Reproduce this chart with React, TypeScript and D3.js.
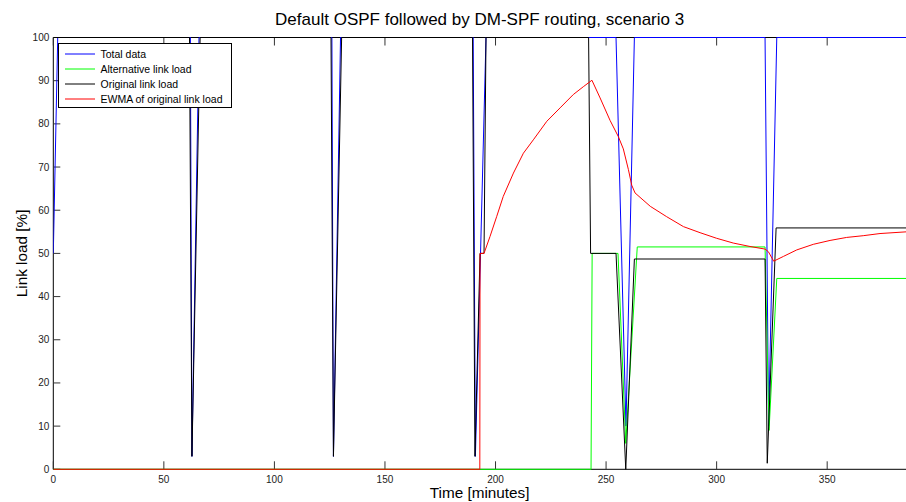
import React from "react";
import * as d3 from "d3";

const W = 906;
const H = 502;

const xTicks = [0, 50, 100, 150, 200, 250, 300, 350];
const yTicks = [0, 10, 20, 30, 40, 50, 60, 70, 80, 90, 100];

const legendLabels = ["Total data", "Alternative link load", "Original link load", "EWMA of original link load"];
const seriesColors = ["#0000ff", "#00ff00", "#000000", "#ff0000"];

// Total data (blue)
const totalT = [0, 2, 62.0, 62.7, 65.9, 126.0, 126.7, 129.9, 189.9, 190.9, 195.7, 254.5, 259.0, 262.8, 321.9, 323.5, 327.2, 386];
const totalV = [50, 100, 100, 3, 100, 100, 3, 100, 100, 3, 100, 100, 10, 100, 100, 10, 100, 100];

// Alternative link load (green)
const altT = [0, 243.2, 243.7, 255.4, 258.9, 264.1, 321.9, 323.7, 327.2, 386];
const altV = [0, 0, 50, 50, 6, 51.5, 51.5, 9, 44.2, 44.2];

// Original link load (black)
const origT = [0, 61.6, 62.7, 66.4, 125.6, 126.7, 130.4, 189.6, 190.7, 193.0, 194.8, 195.7, 242.1, 243.0, 254.5, 258.9, 262.8, 321.9, 322.9, 326.9, 386];
const origV = [100, 100, 3, 100, 100, 3, 100, 100, 3, 50, 50, 100, 100, 50, 50, 0, 48.7, 48.7, 1.4, 55.9, 55.9];

// EWMA of original link load (red)
const ewmaT = [0, 192.9, 193.0, 194.8, 197.5, 200.5, 203.5, 208.1, 212.6, 217.1, 223.2, 229.2, 235.2, 239.7, 243.6, 247.3, 251.8, 255.5, 257.8, 260.1, 261.6, 263.1, 270.0, 277.4, 285.0, 292.5, 300.0, 307.5, 315.1, 321.9, 323.4, 325.8, 330.2, 336.2, 343.7, 351.3, 358.8, 366.3, 373.9, 386];
const ewmaV = [0, 0, 50, 50, 53.9, 58.5, 63.2, 68.6, 73.2, 76.3, 80.6, 83.7, 86.8, 88.6, 90.1, 86.0, 80.8, 77.1, 74.2, 69.4, 65.8, 64.0, 60.9, 58.5, 56.2, 54.8, 53.5, 52.4, 51.6, 51.0, 50.4, 48.2, 49.3, 50.8, 52.1, 53.0, 53.7, 54.1, 54.6, 55.0];

const X_MAX = 386;

export default function App() {
  const left = 53.3;
  const pxPerUnit = 2.2111;
  const right = left + X_MAX * pxPerUnit;
  const top = 37.5;
  const bottom = 469.3;

  const x = d3.scaleLinear().domain([0, X_MAX]).range([left, right]);
  const y = d3.scaleLinear().domain([0, 100]).range([bottom, top]);

  const line = d3
    .line<[number, number]>()
    .x((d) => x(d[0]))
    .y((d) => y(d[1]));

  const zip = (t: number[], v: number[]) => t.map((tt, i) => [tt, v[i]] as [number, number]);
  const series = [
    zip(totalT, totalV),
    zip(altT, altV),
    zip(origT, origV),
    zip(ewmaT, ewmaV),
  ];

  const font = "'Liberation Sans', Arial, Helvetica, sans-serif";
  const tickLen = 8;

  const legX = 58.5;
  const legY = 43.5;
  const legW = 173;
  const legH = 64;
  const rowY = [54, 69, 84, 99];
  const cx = (left + 906) / 2;

  return (
    <svg
      width={W}
      height={H}
      style={{ position: "absolute", left: 0, top: 0, background: "#fff" }}
      fontFamily={font}
    >
      <rect x={0} y={0} width={W} height={H} fill="#fff" />
      <defs>
        <clipPath id="plotClip">
          <rect x={left} y={top - 2} width={right - left} height={bottom - top + 4} />
        </clipPath>
      </defs>

      {/* axes box */}
      <line x1={left} x2={right} y1={top} y2={top} stroke="#000" strokeWidth={1} />
      <line x1={left} x2={right} y1={bottom} y2={bottom} stroke="#000" strokeWidth={1} />
      <line x1={left} x2={left} y1={top} y2={bottom} stroke="#000" strokeWidth={1} />

      {/* x ticks */}
      {xTicks.map((t) => (
        <g key={"xt" + t}>
          <line x1={x(t)} x2={x(t)} y1={bottom} y2={bottom - tickLen} stroke="#333" strokeWidth={1} />
          <line x1={x(t)} x2={x(t)} y1={top} y2={top + tickLen} stroke="#333" strokeWidth={1} />
          <text x={x(t)} y={bottom + 14} textAnchor="middle" fontSize={10} fill="#222">
            {t}
          </text>
        </g>
      ))}

      {/* y ticks */}
      {yTicks.map((v) => (
        <g key={"yt" + v}>
          <line x1={left} x2={left + 7} y1={y(v)} y2={y(v)} stroke="#333" strokeWidth={1} />
          <text x={left - 4} y={y(v) + 3.5} textAnchor="end" fontSize={10} fill="#222">
            {v}
          </text>
        </g>
      ))}

      {/* data */}
      <g clipPath="url(#plotClip)">
        {series.map((s, i) => (
          <path key={"s" + i} d={line(s) || ""} fill="none" stroke={seriesColors[i]} strokeWidth={1} />
        ))}
      </g>

      {/* legend */}
      <rect x={legX} y={legY} width={legW} height={legH} fill="#fff" stroke="#000" strokeWidth={1} />
      {legendLabels.map((lab, i) => (
        <g key={"lg" + i}>
          <line x1={65} x2={95} y1={rowY[i]} y2={rowY[i]} stroke={seriesColors[i]} strokeWidth={1} />
          <text x={100.5} y={rowY[i] + 3.5} fontSize={10.5} fill="#000">
            {lab}
          </text>
        </g>
      ))}

      {/* title and labels */}
      <text x={cx} y={25} textAnchor="middle" fontSize={17} fill="#000">
        Default OSPF followed by DM-SPF routing, scenario 3
      </text>
      <text x={cx} y={498} textAnchor="middle" fontSize={15.3} fill="#000">
        Time [minutes]
      </text>
      <text
        transform={`translate(27, ${(top + bottom) / 2}) rotate(-90)`}
        textAnchor="middle"
        fontSize={15.3}
        fill="#000"
      >
        Link load [%]
      </text>
    </svg>
  );
}
